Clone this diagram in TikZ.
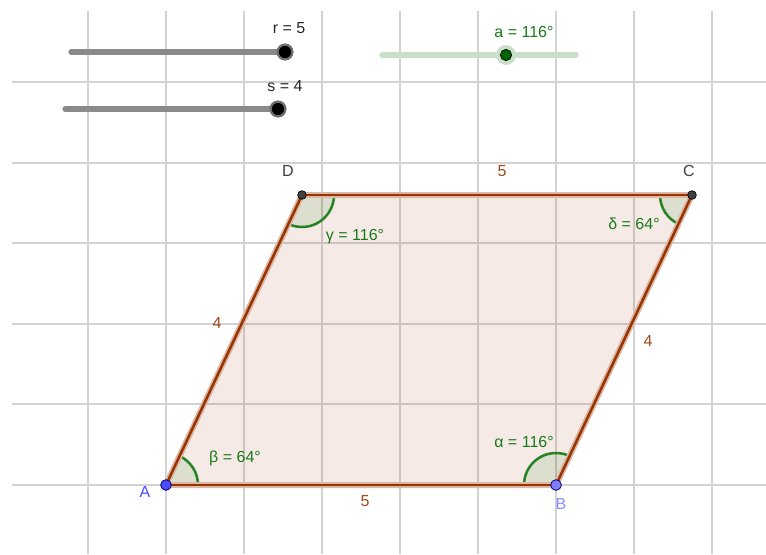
\documentclass[tikz,border=0pt]{standalone}
\usepackage{fontspec}
\setmainfont{Liberation Sans}
\definecolor{gridgray}{HTML}{D3D3D3}
\definecolor{brn}{RGB}{153,51,0}
\definecolor{angc}{RGB}{0,110,0}
\definecolor{angtext}{HTML}{1A7A1A}
\definecolor{ptA}{HTML}{4D4DFF}
\definecolor{ptB}{HTML}{7F7FFF}
\definecolor{labA}{HTML}{4B4BFF}
\definecolor{labB}{HTML}{8C8CFF}
\definecolor{slgray}{HTML}{8A8A8A}
\definecolor{slgreen}{HTML}{C9DFC9}
\definecolor{knobgreen}{HTML}{006400}
\begin{document}
\begin{tikzpicture}[x=0.75pt,y=-0.75pt,font=\fontsize{12}{14}\selectfont,
  gridline/.style={draw=gridgray,line width=1.1pt},
  sliderline/.style={draw=slgray,line width=4pt,line cap=round},
  greenline/.style={draw=slgreen,line width=4pt,line cap=round},
  knob/.style={circle,fill=black,draw=slgray!80!black,line width=1.6pt,minimum size=11pt,inner sep=0pt},
  gknob/.style={circle,fill=knobgreen,draw=black,line width=0.5pt,minimum size=8.5pt,inner sep=0pt},
  ghalo/.style={circle,fill=slgreen,minimum size=15pt,inner sep=0pt},
  bpoint/.style={circle,draw=black!60!blue,line width=0.6pt,minimum size=8pt,inner sep=0pt},
  dpoint/.style={circle,fill=black!75,draw=black,line width=0.5pt,minimum size=6.5pt,inner sep=0pt},
  edge/.style={draw=brn,line width=1.9pt},
  edgehalo/.style={draw=brn!35,line width=4.5pt,line join=round},
  anglefill/.style={fill=angc,fill opacity=0.1},
  anglearc/.style={draw=angc!85!white,line width=1.9pt},
  sidelab/.style={text=brn!90!white,inner sep=0pt},
  anglab/.style={text=angtext,inner sep=0pt},
  slab/.style={text=black!85,inner sep=0pt}]
\useasboundingbox (0,0) rectangle (766,554);
% grid
\foreach \x in {88,166,244,322,400,478,556,634,712} \draw[gridline] (\x,11) -- (\x,554);
\foreach \y in {82,163,243,324,404,485} \draw[gridline] (12,\y) -- (766,\y);
% sliders
\coordinate (rL) at (71,52);
\node[knob] (rk) at (285,52) {};
\draw[sliderline] (rL) -- (rk.center);
\node[knob] at (rk) {};
\node[slab] (rlab) at (289,28) {r = 5};
\coordinate (sL) at (65,109);
\node[knob] (sk) at (278,109) {};
\draw[sliderline] (sL) -- (sk.center);
\node[knob] at (sk) {};
\node[slab] (slabel) at (285,86) {s = 4};
\coordinate (aL) at (382,55);
\coordinate (aR) at (576,55);
\draw[greenline] (aL) -- (aR);
\node[ghalo] (ah) at (506,55) {};
\node[gknob] (ak) at (506,55) {};
\node[anglab] (alab) at (524,32) {a = 116°};
% parallelogram
\coordinate (A) at (166,485);
\coordinate (B) at (556,485);
\coordinate (C) at (692,195);
\coordinate (D) at (302,195);
\fill[brn,opacity=0.1] (A) -- (B) -- (C) -- (D) -- cycle;
% angles
\fill[anglefill] (A) -- ++(0:32) arc (0:-64.87:32) -- cycle;
\draw[anglearc] (A) ++(0:32) arc (0:-64.87:32);
\fill[anglefill] (B) -- ++(-180:32) arc (-180:-64.87:32) -- cycle;
\draw[anglearc] (B) ++(-180:32) arc (-180:-64.87:32);
\fill[anglefill] (C) -- ++(115.13:32) arc (115.13:180:32) -- cycle;
\draw[anglearc] (C) ++(115.13:32) arc (115.13:180:32);
\fill[anglefill] (D) -- ++(0:32) arc (0:115.13:32) -- cycle;
\draw[anglearc] (D) ++(0:32) arc (0:115.13:32);
% edges
\draw[edgehalo] (A) -- (B) -- (C) -- (D) -- cycle;
\draw[edge] (A) -- (B);
\draw[edge] (B) -- (C);
\draw[edge] (C) -- (D);
\draw[edge] (D) -- (A);
% points
\node[bpoint,fill=ptA] (pA) at (A) {};
\node[bpoint,fill=ptB] (pB) at (B) {};
\node[dpoint] (pC) at (C) {};
\node[dpoint] (pD) at (D) {};
% point labels
\node[text=labA,inner sep=0pt] (lA) at (145,492) {A};
\node[text=labB,inner sep=0pt] (lB) at (561,504) {B};
\node[text=black!75,inner sep=0pt] (lC) at (689,171) {C};
\node[text=black!75,inner sep=0pt] (lD) at (288,171) {D};
% side labels
\node[sidelab] (s1) at (502,171) {5};
\node[sidelab] (s2) at (365,501) {5};
\node[sidelab] (s3) at (217,323) {4};
\node[sidelab] (s4) at (648,341) {4};
% angle labels
\node[anglab] (lbeta) at (235,458) {β = 64°};
\node[anglab] (lalpha) at (524,442) {α = 116°};
\node[anglab] (lgamma) at (355,237) {γ = 116°};
\node[anglab] (ldelta) at (634,224) {δ = 64°};
\end{tikzpicture}
\end{document}
